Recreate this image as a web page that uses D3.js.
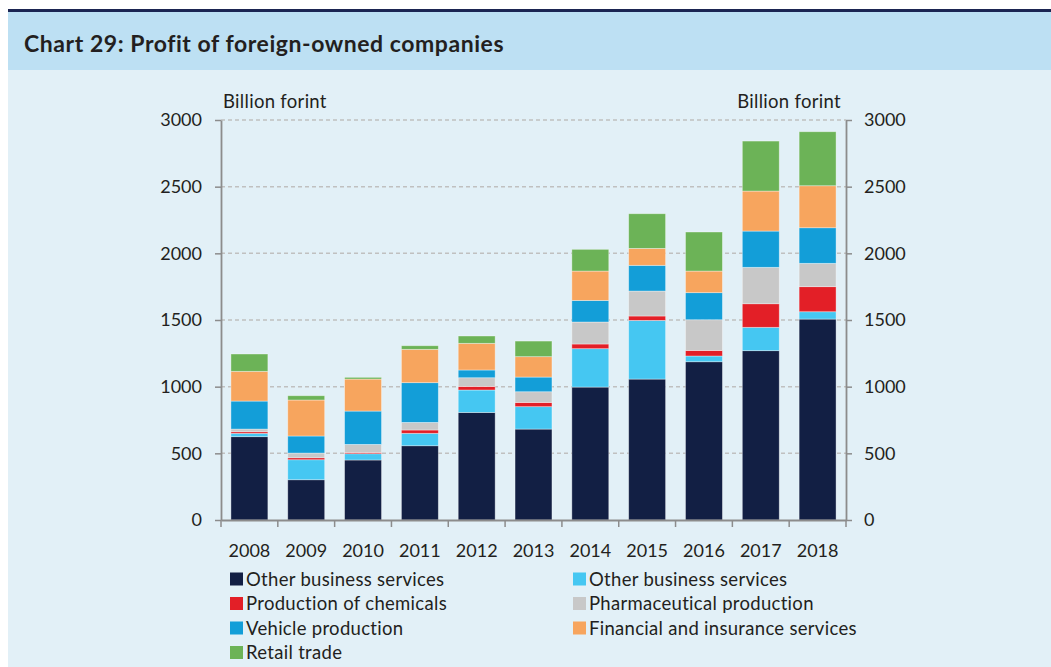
<!DOCTYPE html>
<html><head><meta charset="utf-8">
<script src="https://cdn.jsdelivr.net/npm/d3@7"></script>
<style>html,body{margin:0;padding:0;background:#fff}svg{display:block}</style>
</head><body>
<script>
const years = ["2008","2009","2010","2011","2012","2013","2014","2015","2016","2017","2018"];
const otherBusinessDark = [625,302,450,557,807,682,997,1057,1187,1270,1507];
const otherBusinessLight = [25,150,47,93,168,168,288,440,43,175,55];
const chemicals = [12,15,10,25,27,32,35,33,42,177,188];
const pharmaceutical = [20,35,60,57,65,80,165,187,230,273,175];
const vehicle = [210,128,250,298,58,110,162,193,203,272,267];
const financial = [223,270,240,250,200,153,220,127,162,300,315];
const retail = [130,32,13,27,55,117,163,260,293,375,405];
const seriesNames = ["Other business services","Other business services","Production of chemicals","Pharmaceutical production","Vehicle production","Financial and insurance services","Retail trade"];
const seriesColors = ["#121f44","#45c7f2","#e31f27","#c8c8c8","#139ed8","#f7a55e","#6cb357"];
const yTicks = [0,500,1000,1500,2000,2500,3000];

const W=1051,H=667;
const svg=d3.select("body").append("svg").attr("width",W).attr("height",H);
const font="Lato, 'Open Sans', sans-serif";
svg.append("rect").attr("x",8).attr("y",12).attr("width",W-8).attr("height",58).attr("fill","#bde0f3");
svg.append("rect").attr("x",8).attr("y",70).attr("width",W-8).attr("height",H-70).attr("fill","#e2f0f7");
svg.append("rect").attr("x",8).attr("y",9).attr("width",W-8).attr("height",3).attr("fill","#1b2552");
svg.append("text").attr("x",24).attr("y",52).attr("font-family",font).attr("font-weight","bold")
  .attr("font-size",23).attr("letter-spacing",0.55).attr("fill","#231f20").text("Chart 29: Profit of foreign-owned companies");

const x0=221,x1=846,yTop=120,yBot=520;
const x=d3.scaleBand().domain(years).range([x0,x1]).paddingInner(0.35).paddingOuter(0.175);
const y=d3.scaleLinear().domain([0,3000]).range([yBot,yTop]);

// gridlines
svg.append("g").selectAll("line").data(yTicks.filter(d=>d>0)).join("line")
  .attr("x1",x0).attr("x2",x1).attr("y1",d=>y(d)).attr("y2",d=>y(d))
  .attr("stroke","#c0c0c0").attr("stroke-width",1.5).attr("stroke-dasharray","4,3");

const rows=years.map((yr,i)=>({year:yr,s0:otherBusinessDark[i],s1:otherBusinessLight[i],s2:chemicals[i],s3:pharmaceutical[i],s4:vehicle[i],s5:financial[i],s6:retail[i]}));
const keys=["s0","s1","s2","s3","s4","s5","s6"];
const stacked=d3.stack().keys(keys)(rows);
svg.append("g").selectAll("g").data(stacked).join("g").attr("fill",(d,i)=>seriesColors[i])
  .selectAll("rect").data(d=>d).join("rect")
  .attr("x",d=>x(d.data.year)).attr("width",x.bandwidth())
  .attr("y",d=>y(d[1])).attr("height",d=>y(d[0])-y(d[1]))
  .attr("stroke","#ffffff").attr("stroke-opacity",0.45).attr("stroke-width",0.8);

const axisColor="#8c8c8c";
const tickFont=18;
// left axis
const yl=svg.append("g").attr("transform",`translate(${x0},0)`)
  .call(d3.axisLeft(y).tickValues(yTicks).tickSize(6).tickSizeOuter(0).tickPadding(13).tickFormat(d3.format("d")));
// right axis
const yr=svg.append("g").attr("transform",`translate(${x1},0)`)
  .call(d3.axisRight(y).tickValues(yTicks).tickSize(6).tickSizeOuter(0).tickPadding(12).tickFormat(d3.format("d")));
// bottom axis
const xb=svg.append("g").attr("transform",`translate(0,${yBot})`)
  .call(d3.axisBottom(x).tickSize(0).tickPadding(24));
// category boundary ticks
svg.append("g").selectAll("line").data(d3.range(years.length+1)).join("line")
  .attr("x1",i=>x0+i*x.step()).attr("x2",i=>x0+i*x.step()).attr("y1",yBot).attr("y2",yBot+7)
  .attr("stroke",axisColor).attr("stroke-width",1.5);
[yl,yr,xb].forEach(g=>{
  g.selectAll(".domain").attr("stroke",axisColor).attr("stroke-width",1.8);
  g.selectAll(".tick line").attr("stroke",axisColor).attr("stroke-width",1.5);
  g.selectAll("text").attr("font-family",font).attr("font-size",tickFont).attr("fill","#231f20");
});
xb.selectAll(".tick text").attr("dy","0.71em");

const labFont=18.5, labSpacing=0.3;
svg.append("text").attr("x",223).attr("y",108).attr("font-family",font).attr("font-size",labFont).attr("letter-spacing",labSpacing).attr("fill","#231f20").text("Billion forint");
svg.append("text").attr("x",841).attr("y",108).attr("text-anchor","end").attr("font-family",font).attr("font-size",labFont).attr("letter-spacing",labSpacing).attr("fill","#231f20").text("Billion forint");

// legend
const legendPos=[[230,579],[573,579],[230,603.5],[573,603.5],[230,628],[573,628],[230,652.5]];
const lg=svg.append("g").selectAll("g").data(seriesNames).join("g")
  .attr("transform",(d,i)=>`translate(${legendPos[i][0]},${legendPos[i][1]})`);
lg.append("rect").attr("x",0).attr("y",-6.5).attr("width",13).attr("height",13).attr("fill",(d,i)=>seriesColors[i]);
lg.append("text").attr("x",16).attr("y",0).attr("dy","0.36em").attr("font-family",font).attr("font-size",labFont).attr("letter-spacing",labSpacing).attr("fill","#231f20").text(d=>d);
</script>
</body></html>
